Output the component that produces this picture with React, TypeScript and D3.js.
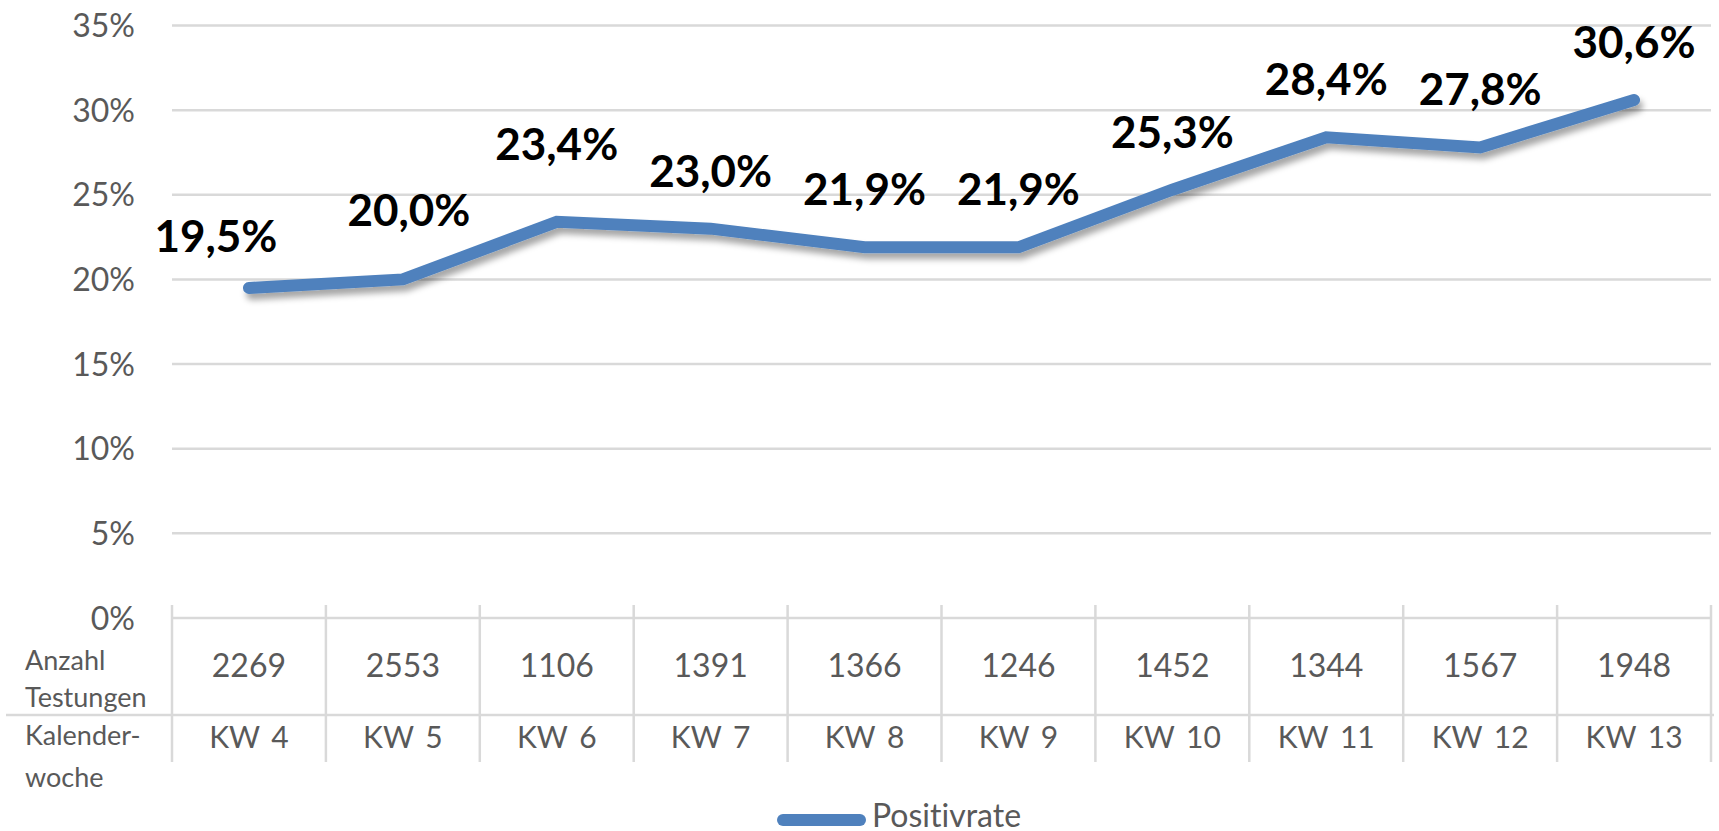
import React, { useEffect, useRef } from 'react';
import * as d3 from 'd3';

// Chart data
const weeks = ['KW 4', 'KW 5', 'KW 6', 'KW 7', 'KW 8', 'KW 9', 'KW 10', 'KW 11', 'KW 12', 'KW 13'];
const positivrate = [19.5, 20.0, 23.4, 23.0, 21.9, 21.9, 25.3, 28.4, 27.8, 30.6];
const testungen = [2269, 2553, 1106, 1391, 1366, 1246, 1452, 1344, 1567, 1948];
const y_ticks = [0, 5, 10, 15, 20, 25, 30, 35];
const series_name = 'Positivrate';

// Manual nudges of some data labels (dx, dy), as in the original
const label_nudge: [number, number][] = [
  [-33, 6], [6, -11], [0, -20], [0, 0], [0, 0],
  [0, 0], [0, 0], [0, 0], [0, 0], [0, 0],
];

const WIDTH = 1719;
const HEIGHT = 831;
const FONT = 'Lato, "Open Sans", sans-serif';
const GREY_TEXT = '#595959';
const GRID = '#d9d9d9';
const BLUE = '#4f81bd';

export default function App() {
  const ref = useRef<SVGSVGElement | null>(null);

  useEffect(() => {
    const svg = d3.select(ref.current);
    svg.selectAll('*').remove();

    const left = 172;
    const right = 1711;
    const y0 = 618;
    const y_top = 25.5;

    const x = d3.scaleBand<string>().domain(weeks).range([left, right]).padding(0);
    const cx = (w: string) => (x(w) as number) + x.bandwidth() / 2;
    const y = d3.scaleLinear().domain([0, 35]).range([y0, y_top]);

    // shadow for the line
    const defs = svg.append('defs');
    const filter = defs
      .append('filter')
      .attr('id', 'line-shadow')
      .attr('x', '-10%')
      .attr('y', '-50%')
      .attr('width', '120%')
      .attr('height', '200%');
    filter
      .append('feDropShadow')
      .attr('dx', 3)
      .attr('dy', 6)
      .attr('stdDeviation', 3)
      .attr('flood-color', '#000')
      .attr('flood-opacity', 0.35);

    // horizontal gridlines (0% is the table top line)
    svg
      .append('g')
      .selectAll('line')
      .data(y_ticks)
      .join('line')
      .attr('x1', left)
      .attr('x2', right)
      .attr('y1', (d) => y(d))
      .attr('y2', (d) => y(d))
      .attr('stroke', GRID)
      .attr('stroke-width', 2.5);

    // y tick labels
    svg
      .append('g')
      .selectAll('text')
      .data(y_ticks)
      .join('text')
      .attr('x', 135)
      .attr('y', (d) => y(d))
      .attr('dy', '0.36em')
      .attr('text-anchor', 'end')
      .attr('font-family', FONT)
      .attr('font-size', 32)
      .attr('fill', GREY_TEXT)
      .text((d) => `${d}%`);

    // data table grid
    const table_top = 605;
    const row_split = 715;
    const table_bottom = 762;
    const cell_edges = [...weeks.map((w) => x(w) as number), right];
    svg
      .append('g')
      .selectAll('line')
      .data(cell_edges)
      .join('line')
      .attr('x1', (d) => d)
      .attr('x2', (d) => d)
      .attr('y1', table_top)
      .attr('y2', table_bottom)
      .attr('stroke', GRID)
      .attr('stroke-width', 2.5);
    svg
      .append('line')
      .attr('x1', 6)
      .attr('x2', right + 3)
      .attr('y1', row_split)
      .attr('y2', row_split)
      .attr('stroke', GRID)
      .attr('stroke-width', 2.5);

    // table values
    svg
      .append('g')
      .selectAll('text')
      .data(testungen)
      .join('text')
      .attr('x', (_, i) => cx(weeks[i]))
      .attr('y', 677)
      .attr('text-anchor', 'middle')
      .attr('font-family', FONT)
      .attr('font-size', 32)
      .attr('fill', GREY_TEXT)
      .text((d) => d);
    svg
      .append('g')
      .selectAll('text')
      .data(weeks)
      .join('text')
      .attr('x', (d) => cx(d))
      .attr('y', 748)
      .attr('text-anchor', 'middle')
      .attr('font-family', FONT)
      .attr('font-size', 30)
      .attr('word-spacing', 4)
      .attr('fill', GREY_TEXT)
      .text((d) => d);

    // row headers
    const headers = [
      { text: 'Anzahl', y: 670 },
      { text: 'Testungen', y: 707 },
      { text: 'Kalender-', y: 745 },
      { text: 'woche', y: 787 },
    ];
    svg
      .append('g')
      .selectAll('text')
      .data(headers)
      .join('text')
      .attr('x', 25)
      .attr('y', (d) => d.y)
      .attr('font-family', FONT)
      .attr('font-size', 27)
      .style('font-variant-ligatures', 'none')
      .attr('fill', GREY_TEXT)
      .text((d) => d.text);

    // the line
    const line = d3
      .line<number>()
      .x((_, i) => cx(weeks[i]))
      .y((d) => y(d));
    svg
      .append('path')
      .datum(positivrate)
      .attr('d', line)
      .attr('fill', 'none')
      .attr('stroke', BLUE)
      .attr('stroke-width', 12)
      .attr('stroke-linecap', 'round')
      .attr('stroke-linejoin', 'miter')
      .attr('filter', 'url(#line-shadow)');

    // data labels
    svg
      .append('g')
      .selectAll('text')
      .data(positivrate)
      .join('text')
      .attr('x', (_, i) => cx(weeks[i]) + label_nudge[i][0])
      .attr('y', (d, i) => y(d) - 42 + label_nudge[i][1])
      .attr('text-anchor', 'middle')
      .attr('font-family', FONT)
      .attr('font-weight', 'bold')
      .attr('font-size', 44)
      .attr('fill', '#000')
      .text((d) => `${d.toFixed(1).replace('.', ',')}%`);

    // legend
    const legend = svg.append('g');
    legend
      .append('line')
      .attr('x1', 783)
      .attr('x2', 860)
      .attr('y1', 820)
      .attr('y2', 820)
      .attr('stroke', BLUE)
      .attr('stroke-width', 12)
      .attr('stroke-linecap', 'round');
    legend
      .append('text')
      .attr('x', 872)
      .attr('y', 827)
      .attr('font-family', FONT)
      .attr('font-size', 32)
      .style('font-variant-ligatures', 'none')
      .attr('fill', GREY_TEXT)
      .text(series_name);
  }, []);

  return (
    <svg
      ref={ref}
      width={WIDTH}
      height={HEIGHT}
      style={{ position: 'absolute', left: 0, top: 0, background: '#fff' }}
    />
  );
}
